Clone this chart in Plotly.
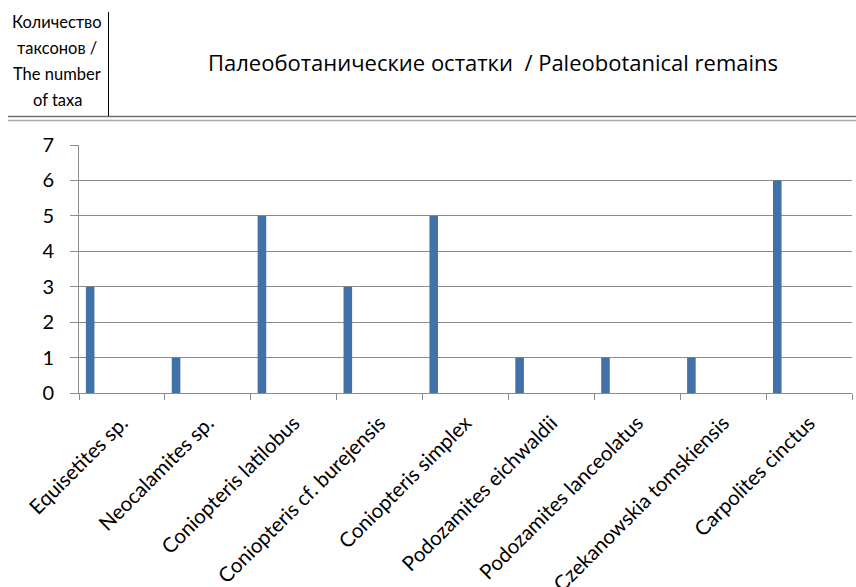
import plotly.graph_objects as go

# Taxa counts per paleobotanical remain
taxa = [
    "Equisetites sp.",
    "Neocalamites sp.",
    "Coniopteris latilobus",
    "Coniopteris cf. burejensis",
    "Coniopteris simplex",
    "Podozamites eichwaldii",
    "Podozamites lanceolatus",
    "Czekanowskia tomskiensis",
    "Carpolites cinctus",
]
counts = [3, 1, 5, 3, 5, 1, 1, 1, 6]
y_ticks = [0, 1, 2, 3, 4, 5, 6, 7]

W, H = 856, 587
ML, MR, MT, MB = 79, 4, 145, 194
PW, PH = W - ML - MR, H - MT - MB


def px_x(x):
    return (x - ML) / PW


def px_y(y):
    return 1 - (y - MT) / PH


fig = go.Figure(
    go.Bar(
        x=taxa,
        y=counts,
        width=0.1,
        offset=-0.42,
        marker=dict(color="#4171A9", line=dict(width=0)),
        hoverinfo="x+y",
    )
)

grid = "#8C8C8C"
fig.update_layout(
    width=W,
    height=H,
    margin=dict(l=ML, r=MR, t=MT, b=MB),
    paper_bgcolor="white",
    plot_bgcolor="white",
    showlegend=False,
    font=dict(family="Lato, sans-serif", color="#000000"),
    xaxis=dict(
        type="category",
        automargin=False,
        tickangle=-45,
        tickfont=dict(size=20.5),
        showgrid=False,
        showline=True,
        linecolor=grid,
        linewidth=1,
        ticks="outside",
        tickson="boundaries",
        ticklen=6,
        tickcolor=grid,
        ticklabelstandoff=9,
        zeroline=False,
        range=[-0.5, len(taxa) - 0.5],
    ),
    yaxis=dict(
        automargin=False,
        range=[0, 7],
        tickvals=y_ticks,
        tickfont=dict(size=20),
        showgrid=True,
        gridcolor=grid,
        gridwidth=1,
        showline=True,
        linecolor=grid,
        linewidth=1,
        ticks="outside",
        ticklen=8,
        tickcolor=grid,
        ticklabelstandoff=12,
        zeroline=False,
    ),
)

# Header: left axis caption, divider and title
caption_lines = ["Количество", "таксонов /", "The number", "of taxa"]
caption_y = [22, 48, 74, 100]
for txt, yy in zip(caption_lines, caption_y):
    fig.add_annotation(
        x=px_x(57), y=px_y(yy), xref="paper", yref="paper",
        text=txt, showarrow=False, xanchor="center", yanchor="middle",
        font=dict(family="Lato, sans-serif", size=16.5, color="#000000"),
    )

fig.add_annotation(
    x=px_x(493), y=px_y(62), xref="paper", yref="paper",
    text="Палеоботанические остатки  / Paleobotanical remains",
    showarrow=False, xanchor="center", yanchor="middle",
    font=dict(family="Open Sans, sans-serif", size=22, color="#000000"),
)

fig.add_shape(
    type="line", xref="paper", yref="paper",
    x0=px_x(108.5), x1=px_x(108.5), y0=px_y(12), y1=px_y(116),
    line=dict(color="#000000", width=1),
)
fig.add_shape(
    type="line", xref="paper", yref="paper",
    x0=px_x(8), x1=px_x(856), y0=px_y(116.5), y1=px_y(116.5),
    line=dict(color="#6E6E6E", width=1.5),
)
fig.add_shape(
    type="line", xref="paper", yref="paper",
    x0=px_x(8), x1=px_x(856), y0=px_y(120.5), y1=px_y(120.5),
    line=dict(color="#A8A8A8", width=1.5),
)

fig.write_html("out.html")
